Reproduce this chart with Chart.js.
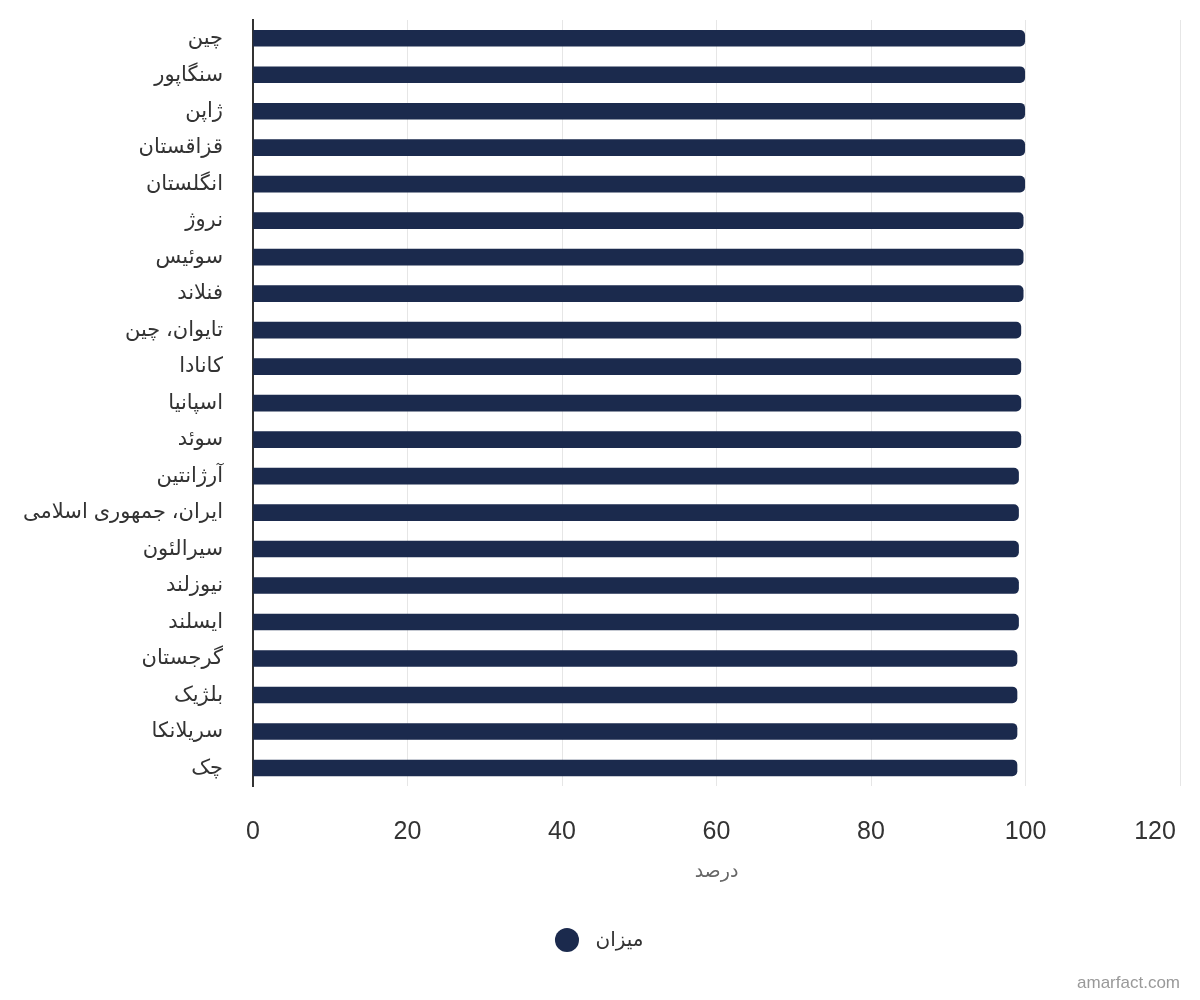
<!DOCTYPE html>
<html>
<head>
<meta charset="utf-8">
<script src="https://cdn.jsdelivr.net/npm/chart.js@4/dist/chart.umd.min.js"></script>
<style>
  html, body { margin: 0; padding: 0; background: #fff; }
  #wrap { width: 1200px; height: 1000px; position: relative; }
</style>
</head>
<body>
<div id="wrap"><canvas id="myChart" width="1200" height="1000"></canvas></div>
<script>
var countries = [
	'چین', 'سنگاپور', 'ژاپن', 'قزاقستان', 'انگلستان', 'نروژ', 'سوئیس', 'فنلاند',
	'تایوان، چین', 'کانادا', 'اسپانیا', 'سوئد', 'آرژانتین', 'ایران، جمهوری اسلامی',
	'سیرالئون', 'نیوزلند', 'ایسلند', 'گرجستان', 'بلژیک', 'سریلانکا', 'چک'
];
var values = [
	99.9, 99.9, 99.9, 99.9, 99.9, 99.7, 99.7, 99.7,
	99.4, 99.4, 99.4, 99.4, 99.1, 99.1,
	99.1, 99.1, 99.1, 98.9, 98.9, 98.9, 98.9
];
var xTicks = [0, 20, 40, 60, 80, 100, 120];
var seriesName = 'میزان';
var axisTitle = 'درصد';

var fontFamily = '"Liberation Sans", Arial, "DejaVu Sans", sans-serif';
var barColor = '#1b2a4d';

var watermark = {
	id: 'watermark',
	afterDraw: function (chart) {
		var ctx = chart.ctx;
		ctx.save();
		ctx.font = '17px ' + fontFamily;
		ctx.fillStyle = '#999';
		ctx.textAlign = 'right';
		ctx.textBaseline = 'middle';
		ctx.fillText('amarfact.com', 1180, 983);
		ctx.restore();
	}
};

new Chart('myChart', {
	type: 'bar',
	data: {
		labels: countries,
		datasets: [{
			label: seriesName,
			data: values,
			backgroundColor: barColor,
			borderRadius: 5,
			borderSkipped: 'start',
			barThickness: 16
		}]
	},
	options: {
		indexAxis: 'y',
		responsive: false,
		animation: false,
		layout: { padding: { top: 20, right: 20, bottom: 40, left: 22 } },
		plugins: {
			legend: {
				position: 'bottom',
				labels: {
					usePointStyle: true,
					pointStyle: 'circle',
					boxWidth: 17,
					boxHeight: 17,
					padding: 20,
					color: '#333',
					font: { family: fontFamily, size: 20 },
					generateLabels: function (chart) {
						var items = Chart.defaults.plugins.legend.labels.generateLabels(chart);
						items.forEach(function (it) { it.text = '\u2002' + it.text; });
						return items;
					}
				}
			},
			tooltip: { enabled: false }
		},
		scales: {
			x: {
				min: 0,
				max: 120,
				afterBuildTicks: function (scale) {
					scale.ticks = xTicks.map(function (v) { return { value: v }; });
				},
				afterFit: function (scale) {
					scale.paddingLeft = 0;
					scale.paddingRight = 0;
				},
				grid: { color: '#e6e6e6', drawTicks: false },
				border: { display: false },
				ticks: {
					padding: 31,
					color: '#333',
					font: { family: fontFamily, size: 25 },
					callback: function (v) {
						// last label is pulled inside the canvas, like the original
						return v === 120 ? v + '\u2003\u2003' : v;
					}
				},
				title: {
					display: true,
					text: axisTitle,
					color: '#666',
					padding: { top: -18, bottom: 27 },
					font: { family: fontFamily, size: 19 }
				}
			},
			y: {
				grid: { display: false, drawTicks: false },
				border: { display: true, color: '#333', width: 2 },
				ticks: {
					padding: 30,
					color: '#333',
					font: { family: fontFamily, size: 21 }
				},
				afterFit: function (scale) {
					scale.width = 231;
					scale.paddingTop = 0;
					scale.paddingBottom = 0;
				}
			}
		}
	},
	plugins: [watermark]
});
</script>
</body>
</html>
